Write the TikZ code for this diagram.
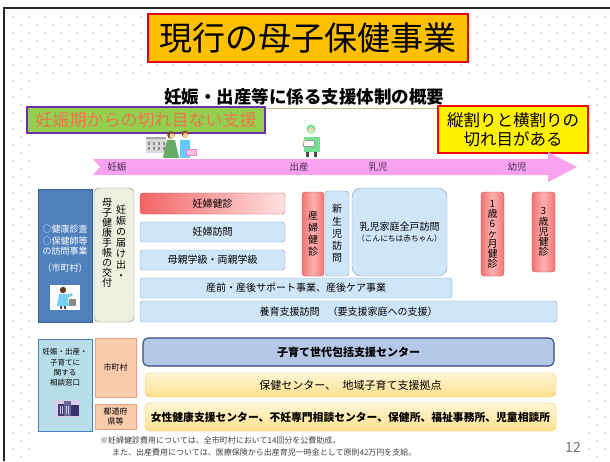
\documentclass[tikz,border=0pt]{standalone}
\usepackage{fontspec}
\setmainfont{Noto Sans CJK JP}
\definecolor{dotc}{RGB}{246,214,198}
\definecolor{titlefill}{RGB}{255,192,0}
\definecolor{titleline}{RGB}{226,0,20}
\definecolor{leafgreen}{RGB}{146,208,80}
\definecolor{violet}{RGB}{112,48,160}
\definecolor{salmontext}{RGB}{238,116,76}
\definecolor{arrowpink}{RGB}{249,163,240}
\definecolor{arrowtext}{RGB}{70,45,80}
\definecolor{steel}{RGB}{79,129,189}
\definecolor{steeldark}{RGB}{56,93,138}
\definecolor{sage}{RGB}{235,241,222}
\definecolor{sageline}{RGB}{130,130,130}
\definecolor{reddark}{RGB}{242,100,100}
\definecolor{redlight}{RGB}{255,226,226}
\definecolor{redmid}{RGB}{252,176,176}
\definecolor{redline}{RGB}{225,70,70}
\definecolor{skyfill}{RGB}{207,230,248}
\definecolor{skyline}{RGB}{125,160,200}
\definecolor{aqua}{RGB}{183,222,232}
\definecolor{peach}{RGB}{248,203,173}
\definecolor{peachline}{RGB}{240,160,130}
\definecolor{navyfill}{RGB}{180,199,231}
\definecolor{navyline}{RGB}{47,78,126}
\definecolor{creamtop}{RGB}{255,246,214}
\definecolor{creambot}{RGB}{255,224,140}
\definecolor{creamline}{RGB}{240,195,70}
\definecolor{underline}{RGB}{170,200,120}
\begin{document}
\begin{tikzpicture}[x=1pt,y=-1pt,
  fs/.style={font=\fontsize{#1}{#1}\selectfont},
  box/.style={draw, rounded corners=3pt, inner sep=0pt, align=center, text=black},
  redh/.style={box, draw=redline, left color=reddark, right color=redlight},
  redv/.style={box, draw=redline, left color=reddark!90, right color=reddark!90, middle color=redmid},
  sky/.style={box, draw=skyline, fill=skyfill},
  cream/.style={box, draw=creamline, top color=creamtop, bottom color=creambot},
  peachbox/.style={draw=peachline, fill=peach, inner sep=0pt, align=center},
  vtext/.style={align=center, inner sep=0pt, text=black, font=\fontsize{10}{#1}\selectfont},
  arrowlabel/.style={fs=9.5, text=arrowtext, inner sep=0pt}]
\useasboundingbox (0,0) rectangle (610,461);
\fill[white] (0,0) rectangle (610,461);
% dotted page background
\foreach \r in {0,...,28}{
  \foreach \c in {0,...,37}{
    \fill[dotc] (12+16*\c,16+16*\r) rectangle ++(1.6,1.6);
    \fill[dotc] (20+16*\c,24+16*\r) rectangle ++(1.6,1.6);
  }
}
\fill[white] (30,74) rectangle (588,461);
% page frame
\draw[line width=2.6pt, black!85] (4,461) -- (4,8) -- (610,8);

% title
\node[draw=titleline, line width=2pt, fill=titlefill, minimum width=320pt, minimum height=48pt, inner sep=0pt, fs=33] (title) at (308,38) {現行の母子保健事業};

% subtitle with rule
\draw[underline, line width=1pt] (265,108) -- (438,108);
\node[font=\bfseries\fontsize{17.5}{17.5}\selectfont, inner sep=0pt] (subtitle) at (304,97) {妊娠・出産等に係る支援体制の概要};

% callouts
\node[draw=violet, line width=2pt, fill=leafgreen, minimum width=238pt, minimum height=26pt, inner sep=0pt, text=salmontext, fs=17] (seamless) at (146,120) {妊娠期からの切れ目ない支援};
\node[draw=red, line width=2pt, fill=yellow, minimum width=150pt, minimum height=47pt, inner sep=0pt, align=center, font=\fontsize{16.5}{19}\selectfont] (gaps) at (513,129.5) {縦割りと横割りの\\切れ目がある};

% life-stage arrow
\fill[arrowpink] (93,159) -- (548,159) -- (548,152) -- (577,167) -- (548,182) -- (548,175) -- (93,175) -- (100,167) -- cycle;
\node[arrowlabel] (s1) at (117,167) {妊娠};
\node[arrowlabel] (s2) at (299,167) {出産};
\node[arrowlabel] (s3) at (378,167) {乳児};
\node[arrowlabel] (s4) at (517,167) {幼児};

% small figures: building and couple
\begin{scope}
  \fill[black!15] (146,139) rectangle (166,153);
  \fill[black!35] (146,137) rectangle (166,139);
  \foreach \wx in {148,153,158,163}{\fill[black!45] (\wx,142) rectangle ++(2,3); \fill[black!45] (\wx,147) rectangle ++(2,3);}
  \fill[green!45!black!60!white] (163,157) -- (167,140) -- (175,140) -- (179,158) -- (164,158) -- cycle;
  \fill[brown!60!black] (171,135) circle (3.8);
  \fill[orange!40!white] (172,136) circle (2.6);
  \fill[blue!35!cyan!60!white] (180,140) rectangle (190,158);
  \fill[brown!70!black] (185,134) circle (3.5);
  \fill[orange!40!white] (185.5,135.5) circle (2.5);
  \fill[pink!80!magenta!60!white, draw=magenta!50] (186,149) rectangle (196,155);
\end{scope}
% small figure: nurse with baby
\begin{scope}
  \fill[teal!45!green!55!white] (304,137) rectangle (320,152);
  \fill[teal!45!green!55!white] (311,129) circle (4.5);
  \fill[orange!35!white] (311,130) circle (3);
  \fill[teal!25!green!30!white] (309,131) rectangle (314,134);
  \fill[black!70] (306,152) rectangle (309,157);
  \fill[black!70] (314,152) rectangle (317,157);
  \fill[white, draw=black!40] (303,140) rectangle (314,146);
  \fill[orange!35!white] (304,141.5) circle (1.8);
\end{scope}

% upper section: left headings
\node[draw=steeldark, fill=steel, minimum width=54pt, minimum height=133pt, inner sep=0pt] (muni) at (65,255.5) {};
\node[text=white, fs=9, inner sep=0pt] (m1) at (65,229) {○健康診査};
\node[text=white, fs=9, inner sep=0pt] (m2) at (65,241) {○保健師等};
\node[text=white, fs=9, inner sep=0pt] (m3) at (65,251) {の訪問事業};
\node[text=white, fs=9, inner sep=0pt] (m4) at (65,268) {（市町村）};
\node[fill=white, minimum width=30pt, minimum height=25pt, inner sep=0pt] (nursepic) at (65,297.5) {};
\begin{scope}
  \fill[cyan!55!white] (59,294) -- (67,294) -- (69,306) -- (57,306) -- cycle;
  \fill[cyan!55!white] (67,295) -- (72,293) -- (73,295) -- (68,298) -- cycle;
  \fill[brown!50!black] (63,290) circle (3.2);
  \fill[black!45] (69,299) rectangle (76,306);
  \fill[black!70] (60,306) rectangle (62,309);
  \fill[black!70] (64,306) rectangle (66,309);
\end{scope}
\node[box, rounded corners=5pt, draw=sageline, fill=sage, minimum width=40pt, minimum height=134pt] (notify) at (114,255) {};
\node[vtext=11] (notifyR) at (121,242) {妊\\娠\\の\\届\\け\\出\\・};
\node[vtext=10] (notifyL) at (107,243) {母\\子\\健\\康\\手\\帳\\の\\交\\付};

% upper section: services
\node[redh, minimum width=145pt, minimum height=21pt, fs=10] (preg) at (212.5,203.5) {妊婦健診};
\node[sky, minimum width=145pt, minimum height=20pt, fs=10] (pvisit) at (212.5,232) {妊婦訪問};
\node[sky, minimum width=145pt, minimum height=20pt, fs=10] (class) at (212.5,260) {母親学級・両親学級};
\node[sky, minimum width=312pt, minimum height=20pt, fs=10] (care) at (296,288) {産前・産後サポート事業、産後ケア事業};
\node[sky, minimum width=417pt, minimum height=21pt, fs=10] (raise) at (348.5,311.5) {養育支援訪問\hspace{0.8em}（要支援家庭への支援）};
\node[redv, minimum width=22pt, minimum height=84pt, vtext=12] (post) at (313,234) {産\\婦\\健\\診};
\node[sky, minimum width=24pt, minimum height=85pt, vtext=12.2] (newborn) at (337,233.5) {新\\生\\児\\訪\\問};
\node[sky, rounded corners=9pt, minimum width=95pt, minimum height=88pt] (infant) at (399.5,232) {};
\node[fs=10, inner sep=0pt] (infantA) at (399.5,227) {乳児家庭全戸訪問};
\node[fs=7.7, inner sep=0pt] (infantB) at (399.5,239) {（こんにちは赤ちゃん）};
\node[redv, minimum width=23pt, minimum height=84pt, vtext=10] (check18) at (492.5,234) {1\\歳\\6\\ヶ\\月\\健\\診};
\node[redv, minimum width=23pt, minimum height=80pt, vtext=10.2] (check3) at (543.5,232) {3\\歳\\児\\健\\診};

% lower section: consultation desks
\node[draw=steel, line width=0.9pt, fill=aqua, minimum width=54pt, minimum height=92pt, inner sep=0pt] (desk) at (65,385) {};
\node[align=center, inner sep=0pt, font=\fontsize{7.5}{10.3}\selectfont] (deskT) at (65,367.5) {妊娠・出産・\\子育てに\\関する\\相談窓口};
\node[fill=violet!25!white, minimum width=25pt, minimum height=17pt, inner sep=0pt] (officepic) at (67.5,408.5) {};
\begin{scope}
  \fill[blue!30!black!75] (58,404) rectangle (64,416);
  \fill[blue!30!black!60] (64,401) rectangle (71,416);
  \fill[blue!30!black!80] (71,405) rectangle (79,416);
  \foreach \wx in {60,62,66,68}{\fill[white!70!violet] (\wx,406) rectangle ++(0.8,8);}
\end{scope}
\node[peachbox, minimum width=41pt, minimum height=59pt, fs=8] (city) at (115.5,367.5) {市町村};
\node[peachbox, minimum width=41pt, minimum height=25pt, font=\fontsize{8}{10}\selectfont] (pref) at (115.5,416.5) {都道府\\県等};
\node[box, rounded corners=5pt, draw=navyline, line width=1.1pt, fill=navyfill, minimum width=411pt, minimum height=28pt, font=\bfseries\fontsize{11}{11}\selectfont] (hub) at (348.5,352) {子育て世代包括支援センター};
\node[cream, rounded corners=5pt, minimum width=411pt, minimum height=24pt, fs=11] (centre) at (350.5,385) {保健センター、\hspace{0.6em}地域子育て支援拠点};
\node[cream, rounded corners=5pt, minimum width=411pt, minimum height=28pt, font=\bfseries\fontsize{10.8}{10.8}\selectfont] (offices) at (350.5,417) {女性健康支援センター、不妊専門相談センター、保健所、福祉事務所、児童相談所};

% notes and page number
\node[anchor=west, inner sep=0pt, text=black!75, fs=8] (note1) at (100,440) {※妊婦健診費用については、全市町村において14回分を公費助成。};
\node[anchor=west, inner sep=0pt, text=black!75, fs=8] (note2) at (112,452) {また、出産費用については、医療保険から出産育児一時金として原則42万円を支給。};
\node[inner sep=0pt, text=black!55, fs=14] (page) at (573,447) {12};
\end{tikzpicture}
\end{document}
